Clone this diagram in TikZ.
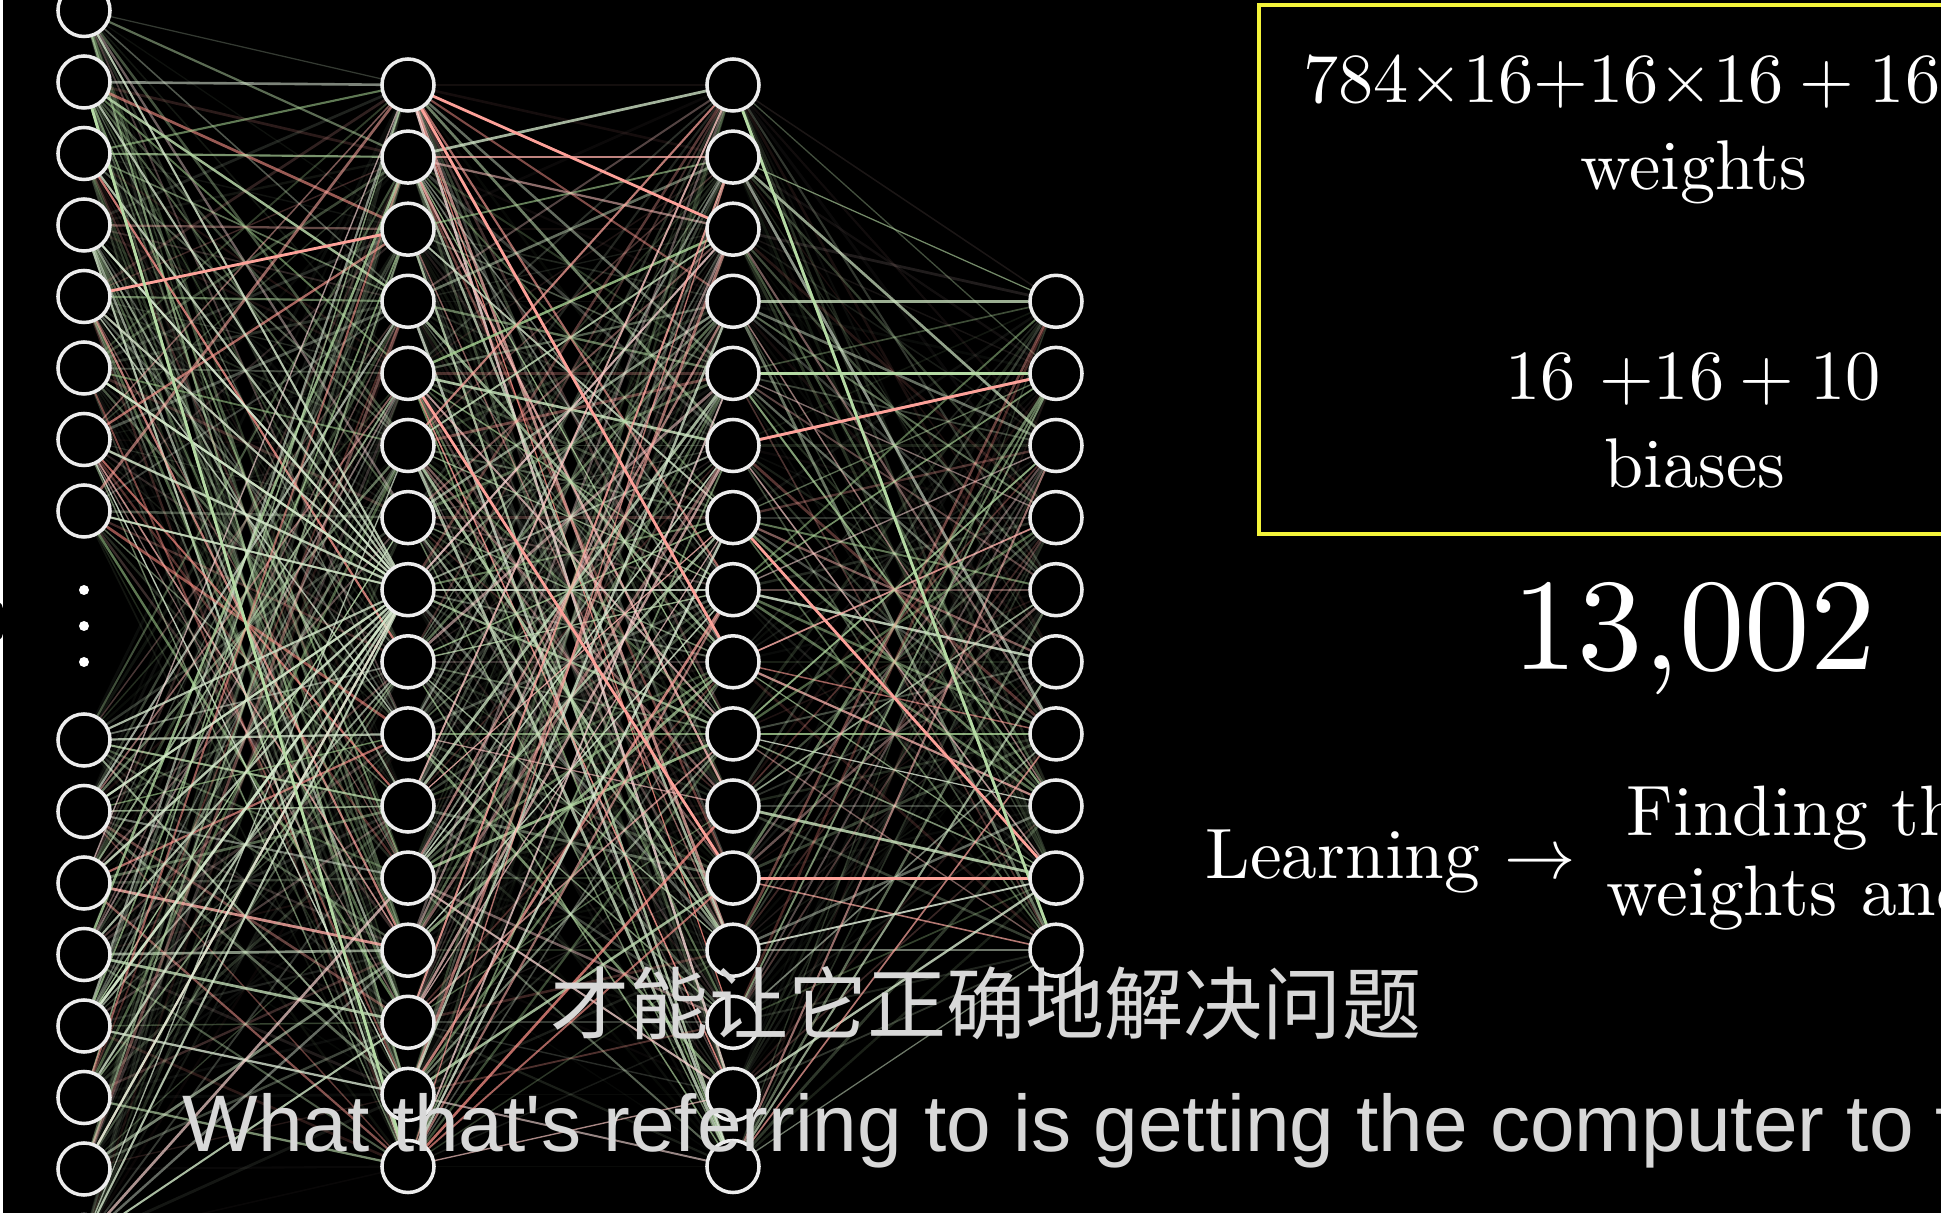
\documentclass[tikz,border=0pt]{standalone}
\usepackage{fontspec}
\newfontfamily\zhfont{Noto Sans CJK SC}
\newfontfamily\subfont{Liberation Sans}
\usetikzlibrary{backgrounds}
\definecolor{cpos}{HTML}{83C167}
\definecolor{cneg}{HTML}{FC6255}
\definecolor{cyellow}{HTML}{F4F43A}
\definecolor{cnode}{HTML}{EDEDED}
\definecolor{csub}{HTML}{D8D8D8}
\tikzset{
  every picture/.style={x=0.01cm, y=-0.01cm},
  neuron/.style={circle, draw=cnode, fill=black, line width=1pt, minimum size=0.52cm, inner sep=0pt},
  edge/.style={line cap=round},
  big/.style={text=white, font=\fontsize{10}{11.2}\selectfont, inner sep=0pt, scale=2},
  total/.style={text=white, font=\fontsize{10}{12}\selectfont, inner sep=0pt, scale=3.72},
  subzh/.style={text=csub, font=\zhfont\fontsize{22.5}{26}\selectfont, inner sep=0pt},
  suben/.style={text=csub, font=\subfont\fontsize{22.8}{26}\selectfont, inner sep=0pt},
}
\begin{document}
\begin{tikzpicture}
  \useasboundingbox (0,0) rectangle (1941,1213);
  % input layer, cut by the dots
  \foreach \k in {1,...,8} \node[neuron] (in\k) at (84,{10.5+71.5*(\k-1)}) {};
  \foreach \k in {9,...,16} \node[neuron] (in\k) at (84,{740+71.5*(\k-9)}) {};
  \foreach \y in {590,626,662} \fill[white] (84,\y) circle (0.05cm);
  % two hidden layers
  \foreach \k in {1,...,16} {
    \node[neuron] (ha\k) at (408,{85+72.1*(\k-1)}) {};
    \node[neuron] (hb\k) at (733,{85+72.1*(\k-1)}) {};
  }
  % output layer
  \foreach \k in {1,...,10} \node[neuron] (out\k) at (1056,{85+72.1*(\k+2)}) {};

  % weights behind the neurons
  \begin{scope}[on background layer]
    \fill[black] (0,0) rectangle (1941,1213);
    \draw[white, line width=0.9pt] (1.5,0) -- (1.5,1213);
    \fill[black] (0,621) ellipse [x radius=0.04cm, y radius=0.18cm];
    \pgfmathsetseed{1302}
    \foreach \a/\b/\n in {in/ha/16, ha/hb/16, hb/out/10}
      \foreach \i in {1,...,16}
        \foreach \j in {1,...,\n} {
          \pgfmathsetmacro\op{0.04+0.8*rnd^1.7}
          \pgfmathtruncatemacro\mix{20+55*rnd}
          \pgfmathsetmacro\lw{0.35+0.45*rnd}
          \pgfmathtruncatemacro\sgn{rnd<0.3}
          \ifnum\sgn=1 \def\wc{cneg}\else\def\wc{cpos}\fi
          \draw[edge, draw=\wc!\mix!white, draw opacity=\op, line width=\lw pt] (\a\i) -- (\b\j);
        }
    % the fan into one neuron
    \foreach \i in {1,...,16} \draw[edge, draw=cpos!30!white, draw opacity=0.75, line width=0.6pt] (in\i) -- (ha8);
    % a few strong weights
    \foreach \s/\t/\c in {ha1/hb3/cneg, ha1/hb9/cneg, ha5/hb12/cneg, in5/ha3/cneg, hb5/out2/cpos,
        hb6/out2/cneg, hb12/out9/cneg, hb7/out9/cneg, hb1/out10/cpos, in2/ha16/cpos}
      \draw[edge, draw=\c!60!white, line width=0.8pt] (\s) -- (\t);
  \end{scope}

  % parameter count
  \draw[cyellow, line width=1.2pt] (1259,5) rectangle (2000,534);
  \node[big, anchor=base west] (wcount) at (1302,103) {$784{\times}16{+}16{\times}16 + 16{\times}10$};
  \node[big, anchor=base] (wlabel) at (1694,190) {weights};
  \node[big, anchor=base] (bcount) at (1693,400) {$16\ {+}16 + 10$};
  \node[big, anchor=base] (blabel) at (1695,488) {biases};
  \node[total, anchor=base] (sum) at (1694,670) {13,002};
  \node[big, scale=1.015, anchor=base west] (learn) at (1204,879) {Learning $\rightarrow$};
  \node[big, scale=1.015, align=center] (meaning) at (1895,858) {Finding the right\\weights and biases};

  % subtitles
  \node[subzh, anchor=base] (linezh) at (986,1034) {才能让它正确地解决问题};
  \node[suben, anchor=base west] (lineen) at (182,1152) {What that's referring to is getting the computer to find};
\end{tikzpicture}
\end{document}
